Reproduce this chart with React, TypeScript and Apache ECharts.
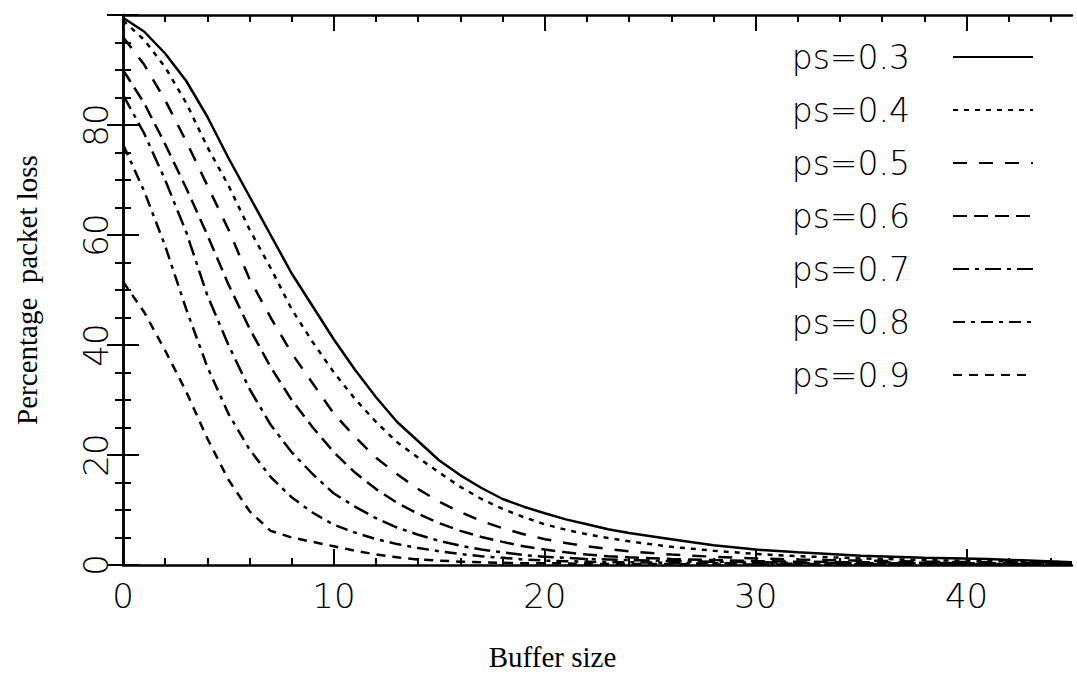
import React, { useEffect, useRef } from "react";
import * as echarts from "echarts";

const bufferSizes = [0, 1, 2, 3, 4, 5, 6, 7, 8, 9, 10, 11, 12, 13, 14, 15, 16, 17, 18, 19, 20, 21, 22, 23, 24, 26, 28, 30, 32, 35, 38, 41, 45];

const ps03 = [99.5, 97, 93, 88, 81.5, 74, 67, 60, 53, 47, 41, 35.5, 30.5, 26, 22.5, 19, 16.3, 14, 12, 10.6, 9.4, 8.3, 7.4, 6.5, 5.8, 4.7, 3.6, 2.8, 2.3, 1.7, 1.3, 1.1, 0.5];
const ps04 = [99, 95.5, 90.5, 84, 76, 69, 61, 54, 46.5, 40.5, 35, 30.2, 26, 22.3, 19.5, 16.8, 14.2, 12, 10.2, 8.7, 7.4, 6.4, 5.6, 4.9, 4.3, 3.3, 2.6, 2.0, 1.6, 1.2, 0.9, 0.7, 0.5];
const ps05 = [96, 91, 84.5, 77, 69, 61, 52, 45, 38.5, 33, 27.5, 23.3, 19.5, 16.5, 13.8, 11.5, 9.6, 8.0, 6.7, 5.6, 4.7, 4.0, 3.4, 2.9, 2.5, 1.9, 1.5, 1.2, 1.0, 0.8, 0.6, 0.5, 0.4];
const ps06 = [90, 84, 76.5, 68.5, 60, 51, 43, 36, 30, 25, 20.5, 16.8, 13.8, 11.3, 9.3, 7.6, 6.2, 5.1, 4.2, 3.4, 2.8, 2.3, 1.9, 1.6, 1.4, 1.1, 0.9, 0.7, 0.6, 0.5, 0.4, 0.3, 0.3];
const ps07 = [85.5, 78.5, 70, 60.5, 49, 40, 32, 25.5, 20.5, 16.5, 13, 10.6, 8.5, 6.8, 5.5, 4.4, 3.5, 2.8, 2.3, 1.8, 1.5, 1.3, 1.1, 1.0, 0.9, 0.7, 0.6, 0.5, 0.4, 0.3, 0.3, 0.2, 0.2];
const ps08 = [76.5, 68, 58, 46.5, 36, 27.5, 21, 16, 12.3, 9.5, 7.3, 5.9, 4.7, 3.8, 3.1, 2.5, 2.0, 1.6, 1.3, 1.0, 0.8, 0.7, 0.6, 0.5, 0.5, 0.4, 0.3, 0.3, 0.2, 0.2, 0.2, 0.1, 0.1];
const ps09 = [51.5, 46, 39, 31.5, 23, 15.5, 9.8, 6.2, 5.0, 4.2, 3.4, 2.6, 1.9, 1.4, 1.0, 0.8, 0.6, 0.5, 0.4, 0.3, 0.3, 0.3, 0.2, 0.2, 0.2, 0.2, 0.1, 0.1, 0.1, 0.1, 0.1, 0.1, 0.1];

const seriesNames = ["ps=0.3", "ps=0.4", "ps=0.5", "ps=0.6", "ps=0.7", "ps=0.8", "ps=0.9"];
const seriesValues = [ps03, ps04, ps05, ps06, ps07, ps08, ps09];
const dashTypes: any[] = ["solid", [5, 6], [14, 12], [14, 7], [16, 6, 4, 6], [12, 6, 4, 6], [9, 7]];

const xMajorTicks = [0, 10, 20, 30, 40];
const xMinorTicks = [2, 4, 6, 8, 12, 14, 16, 18, 22, 24, 26, 28, 32, 34, 36, 38, 42, 44];

export default function App() {
  const ref = useRef<HTMLDivElement>(null);
  useEffect(() => {
    const chart = echarts.init(ref.current!, null, { renderer: "svg" });
    const axisLineStyle = { color: "#000", width: 2.5 };
    const tickLine = { color: "#000", width: 2 };
    const baseX = { type: "value", min: 0, max: 45, splitLine: { show: false } };
    chart.setOption({
      animation: false,
      backgroundColor: "#fff",
      grid: { left: 123, right: 5, top: 15, bottom: 113 },
      legend: {
        orient: "vertical",
        right: 38,
        top: 32,
        align: "right",
        itemWidth: 80,
        itemHeight: 14,
        itemGap: 13,
        selectedMode: false,
        data: seriesNames,
        itemStyle: { color: "transparent", borderColor: "transparent", borderWidth: 0, opacity: 0 },
        textStyle: {
          fontSize: 33,
          fontFamily: "DejaVu Sans",
          fontWeight: 200,
          color: "#000",
          lineHeight: 40,
          padding: [0, 38, 0, 0],
        },
      },
      xAxis: [
        {
          ...baseX,
          position: "bottom",
          axisLine: { lineStyle: axisLineStyle },
          axisTick: { inside: true, length: 16, customValues: xMajorTicks, lineStyle: tickLine },
          axisLabel: { customValues: xMajorTicks, fontSize: 34, fontFamily: "DejaVu Sans", fontWeight: 200, color: "#000", margin: 14 },
          name: "Buffer size",
          nameLocation: "middle",
          nameGap: 77,
          nameTextStyle: { fontFamily: "Liberation Serif", fontSize: 29, color: "#000", padding: [0, 90, 0, 0] },
        },
        {
          ...baseX,
          position: "bottom",
          axisLine: { show: false },
          axisTick: { inside: true, length: 7, customValues: xMinorTicks, lineStyle: tickLine },
          axisLabel: { show: false },
        },
        {
          ...baseX,
          position: "top",
          axisLine: { lineStyle: axisLineStyle },
          axisTick: { inside: true, length: 16, customValues: xMajorTicks, lineStyle: tickLine },
          axisLabel: { show: false },
        },
        {
          ...baseX,
          position: "top",
          axisLine: { show: false },
          axisTick: { inside: true, length: 7, customValues: xMinorTicks, lineStyle: tickLine },
          axisLabel: { show: false },
        },
      ],
      yAxis: [
        {
          type: "value",
          position: "left",
          min: 0,
          max: 100,
          interval: 20,
          splitLine: { show: false },
          axisLine: { lineStyle: axisLineStyle },
          axisTick: { inside: true, length: 16, lineStyle: tickLine },
          minorTick: { show: true, splitNumber: 4, length: 8, lineStyle: tickLine },
          axisLabel: { rotate: 90, fontSize: 34, fontFamily: "DejaVu Sans", fontWeight: 200, color: "#000", margin: 10, showMaxLabel: false },
          name: "Percentage  packet loss",
          nameLocation: "middle",
          nameGap: 82,
          nameTextStyle: { fontFamily: "Liberation Serif", fontSize: 29, color: "#000" },
        },
        {
          type: "value",
          position: "right",
          min: 0,
          max: 100,
          interval: 20,
          splitLine: { show: false },
          axisLine: { show: true, lineStyle: axisLineStyle },
          axisTick: { inside: true, length: 16, lineStyle: tickLine },
          minorTick: { show: true, splitNumber: 4, length: 8, lineStyle: tickLine },
          axisLabel: { show: false },
        },
      ],
      series: seriesNames.map((name, k) => ({
        name,
        type: "line",
        xAxisIndex: 0,
        yAxisIndex: 0,
        symbol: "none",
        showSymbol: false,
        silent: true,
        data: bufferSizes.map((x, i) => [x, seriesValues[k][i]]),
        lineStyle: { color: "#000", width: 2.5, type: dashTypes[k] },
        itemStyle: { color: "#000" },
      })),
    });
    return () => chart.dispose();
  }, []);
  return (
    <div
      ref={ref}
      style={{ position: "absolute", left: 0, top: 0, width: 1077, height: 678, background: "#fff" }}
    />
  );
}
